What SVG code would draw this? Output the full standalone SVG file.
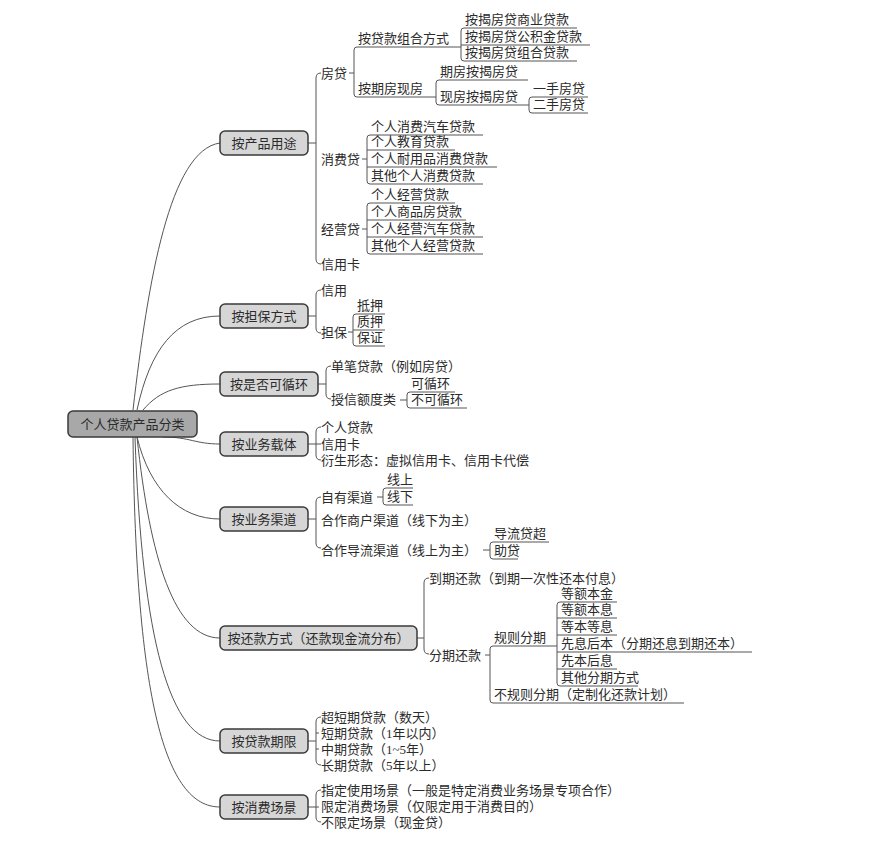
<svg xmlns="http://www.w3.org/2000/svg" width="879" height="841" viewBox="0 0 879 841">
<style>
text{font-family:"Liberation Serif","Noto Sans CJK SC",serif;font-size:13px;fill:#2b2b2b}
.c{text-anchor:middle}
.root{fill:#a8a8a8;stroke:#3a3a3a;stroke-width:1.5}
.box{fill:#d6d6d6;stroke:#3a3a3a;stroke-width:1.5}
#connectors path{fill:none;stroke:#555;stroke-width:1}
</style>
<rect width="879" height="841" fill="#fff"/>
<g id="connectors">
<path d="M133,410 C148,280 170,150 220,143"/>
<path d="M137,410 C150,350 175,316 220,316"/>
<path d="M143,410 C160,390 180,384 220,384"/>
<path d="M163,437 C190,437 195,444 220,444"/>
<path d="M137,437 C150,490 180,519 220,519"/>
<path d="M137,437 C150,560 175,638 220,638"/>
<path d="M135,437 C142,640 170,741 220,741"/>
<path d="M133,437 C136,700 165,807 220,807"/>
<!-- 按产品用途 -->
<path d="M308,143 H316"/>
<path d="M321,73 Q316,73 316,78 V259 Q316,264 321,264"/>
<path d="M349,73 H354"/>
<path d="M461,47 H357 Q354,47 354,50 V94 Q354,97 357,97 H436"/>
<path d="M577,28 H464 Q461,28 461,31 V58 Q461,61 464,61 H577"/>
<path d="M461,45 H590"/>
<path d="M528,80 H439 Q436,80 436,83 V102 Q436,105 439,105 H529"/>
<path d="M588,97 H532 Q529,97 529,100 V110 Q529,113 532,113 H588"/>
<path d="M362,159 H367"/>
<path d="M483,135 H370 Q367,135 367,138 V181 Q367,184 370,184 H483"/>
<path d="M367,150 H455"/>
<path d="M367,167 H497"/>
<path d="M362,229 H367"/>
<path d="M455,203 H370 Q367,203 367,206 V251 Q367,254 370,254 H483"/>
<path d="M367,220 H466"/>
<path d="M367,237 H483"/>
<!-- 按担保方式 -->
<path d="M308,316 H316"/>
<path d="M321,290 Q316,290 316,295 V328 Q316,333 321,333"/>
<path d="M348,332 H353"/>
<path d="M385,314 H356 Q353,314 353,317 V343 Q353,346 356,346 H385"/>
<path d="M353,330 H385"/>
<!-- 按是否可循环 -->
<path d="M318,384 H326"/>
<path d="M331,366 Q326,366 326,371 V394 Q326,399 331,399"/>
<path d="M400,400 H407"/>
<path d="M455,392 H410 Q407,392 407,395 V405 Q407,408 410,408 H467"/>
<!-- 按业务载体 -->
<path d="M308,444 H321"/>
<path d="M321,427 Q316,427 316,432 V455 Q316,460 321,460"/>
<!-- 按业务渠道 -->
<path d="M308,519 H316"/>
<path d="M321,497 Q316,497 316,502 V543 Q316,548 321,548"/>
<path d="M377,497 H383"/>
<path d="M413,488 H386 Q383,488 383,491 V502 Q383,505 386,505 H413"/>
<path d="M483,550 H490"/>
<path d="M549,542 H493 Q490,542 490,545 V556 Q490,559 493,559 H518"/>
<!-- 按还款方式 -->
<path d="M417,638 H424"/>
<path d="M429,578 Q424,578 424,583 V649 Q424,654 429,654"/>
<path d="M485,655 H490"/>
<path d="M557,646 H493 Q490,646 490,649 V700 Q490,703 493,703 H684"/>
<path d="M617,602 H560 Q557,602 557,605 V683 Q557,686 560,686 H638"/>
<path d="M557,618 H617"/>
<path d="M557,635 H617"/>
<path d="M557,652 H752"/>
<path d="M557,669 H617"/>
<!-- 按贷款期限 -->
<path d="M308,741 H316"/>
<path d="M321,717 Q316,717 316,722 V760 Q316,765 321,765"/>
<path d="M316,733 H319"/>
<path d="M316,749 H319"/>
<!-- 按消费场景 -->
<path d="M308,807 H319"/>
<path d="M321,790 Q316,790 316,795 V817 Q316,822 321,822"/>
</g>

<g id="root"><rect class="root" x="68" y="411" width="129" height="26" rx="5"/><text class="c" x="132.5" y="428.5">个人贷款产品分类</text></g>

<g id="n1"><rect class="box" x="220" y="131" width="88" height="24" rx="5"/><text class="c" x="264" y="147.5">按产品用途</text></g>
<g id="n1-1"><text x="321" y="77.5">房贷</text></g>
<g id="n1-1-1"><text x="358" y="43">按贷款组合方式</text></g>
<g id="n1-1-1-1"><text x="465" y="24">按揭房贷商业贷款</text></g>
<g id="n1-1-1-2"><text x="465" y="41">按揭房贷公积金贷款</text></g>
<g id="n1-1-1-3"><text x="465" y="57">按揭房贷组合贷款</text></g>
<g id="n1-1-2"><text x="358" y="93">按期房现房</text></g>
<g id="n1-1-2-1"><text x="440" y="76">期房按揭房贷</text></g>
<g id="n1-1-2-2"><text x="440" y="101">现房按揭房贷</text></g>
<g id="n1-1-2-2-1"><text x="533" y="93">一手房贷</text></g>
<g id="n1-1-2-2-2"><text x="533" y="109">二手房贷</text></g>
<g id="n1-2"><text x="321" y="163.5">消费贷</text></g>
<g id="n1-2-1"><text x="371" y="131">个人消费汽车贷款</text></g>
<g id="n1-2-2"><text x="371" y="146">个人教育贷款</text></g>
<g id="n1-2-3"><text x="371" y="163">个人耐用品消费贷款</text></g>
<g id="n1-2-4"><text x="371" y="180">其他个人消费贷款</text></g>
<g id="n1-3"><text x="321" y="233.5">经营贷</text></g>
<g id="n1-3-1"><text x="371" y="199">个人经营贷款</text></g>
<g id="n1-3-2"><text x="371" y="216">个人商品房贷款</text></g>
<g id="n1-3-3"><text x="371" y="233">个人经营汽车贷款</text></g>
<g id="n1-3-4"><text x="371" y="250">其他个人经营贷款</text></g>
<g id="n1-4"><text x="321" y="268.5">信用卡</text></g>

<g id="n2"><rect class="box" x="220" y="304" width="88" height="24" rx="5"/><text class="c" x="264" y="320.5">按担保方式</text></g>
<g id="n2-1"><text x="321" y="294.5">信用</text></g>
<g id="n2-2"><text x="321" y="337">担保</text></g>
<g id="n2-2-1"><text x="357" y="310">抵押</text></g>
<g id="n2-2-2"><text x="357" y="326">质押</text></g>
<g id="n2-2-3"><text x="357" y="342">保证</text></g>

<g id="n3"><rect class="box" x="220" y="372" width="98" height="24" rx="5"/><text class="c" x="269" y="388.5">按是否可循环</text></g>
<g id="n3-1"><text x="331" y="370.5">单笔贷款（例如房贷）</text></g>
<g id="n3-2"><text x="331" y="404">授信额度类</text></g>
<g id="n3-2-1"><text x="411" y="388">可循环</text></g>
<g id="n3-2-2"><text x="411" y="404">不可循环</text></g>

<g id="n4"><rect class="box" x="220" y="432" width="88" height="24" rx="5"/><text class="c" x="264" y="448.5">按业务载体</text></g>
<g id="n4-1"><text x="321" y="431.5">个人贷款</text></g>
<g id="n4-2"><text x="321" y="448.5">信用卡</text></g>
<g id="n4-3"><text x="321" y="464.5">衍生形态：虚拟信用卡、信用卡代偿</text></g>

<g id="n5"><rect class="box" x="220" y="507" width="88" height="24" rx="5"/><text class="c" x="264" y="523.5">按业务渠道</text></g>
<g id="n5-1"><text x="321" y="501.5">自有渠道</text></g>
<g id="n5-1-1"><text x="387" y="484">线上</text></g>
<g id="n5-1-2"><text x="387" y="501">线下</text></g>
<g id="n5-2"><text x="321" y="524.5">合作商户渠道（线下为主）</text></g>
<g id="n5-3"><text x="321" y="554.5">合作导流渠道（线上为主）</text></g>
<g id="n5-3-1"><text x="494" y="538">导流贷超</text></g>
<g id="n5-3-2"><text x="494" y="555">助贷</text></g>

<g id="n6"><rect class="box" x="220" y="626" width="197" height="24" rx="5"/><text class="c" x="318.5" y="642.5">按还款方式（还款现金流分布）</text></g>
<g id="n6-1"><text x="429" y="582.5">到期还款（到期一次性还本付息）</text></g>
<g id="n6-2"><text x="429" y="659.5">分期还款</text></g>
<g id="n6-2-1"><text x="494" y="642">规则分期</text></g>
<g id="n6-2-1-1"><text x="561" y="598">等额本金</text></g>
<g id="n6-2-1-2"><text x="561" y="614">等额本息</text></g>
<g id="n6-2-1-3"><text x="561" y="631">等本等息</text></g>
<g id="n6-2-1-4"><text x="561" y="648">先息后本（分期还息到期还本）</text></g>
<g id="n6-2-1-5"><text x="561" y="665">先本后息</text></g>
<g id="n6-2-1-6"><text x="561" y="682">其他分期方式</text></g>
<g id="n6-2-2"><text x="494" y="699">不规则分期（定制化还款计划）</text></g>

<g id="n7"><rect class="box" x="220" y="729" width="88" height="24" rx="5"/><text class="c" x="264" y="745.5">按贷款期限</text></g>
<g id="n7-1"><text x="321" y="721.5">超短期贷款（数天）</text></g>
<g id="n7-2"><text x="321" y="737.5">短期贷款（1年以内）</text></g>
<g id="n7-3"><text x="321" y="753.5">中期贷款（1~5年）</text></g>
<g id="n7-4"><text x="321" y="769.5">长期贷款（5年以上）</text></g>

<g id="n8"><rect class="box" x="220" y="795" width="88" height="24" rx="5"/><text class="c" x="264" y="811.5">按消费场景</text></g>
<g id="n8-1"><text x="321" y="794.5">指定使用场景（一般是特定消费业务场景专项合作）</text></g>
<g id="n8-2"><text x="321" y="810.5">限定消费场景（仅限定用于消费目的）</text></g>
<g id="n8-3"><text x="321" y="826.5">不限定场景（现金贷）</text></g>
</svg>
